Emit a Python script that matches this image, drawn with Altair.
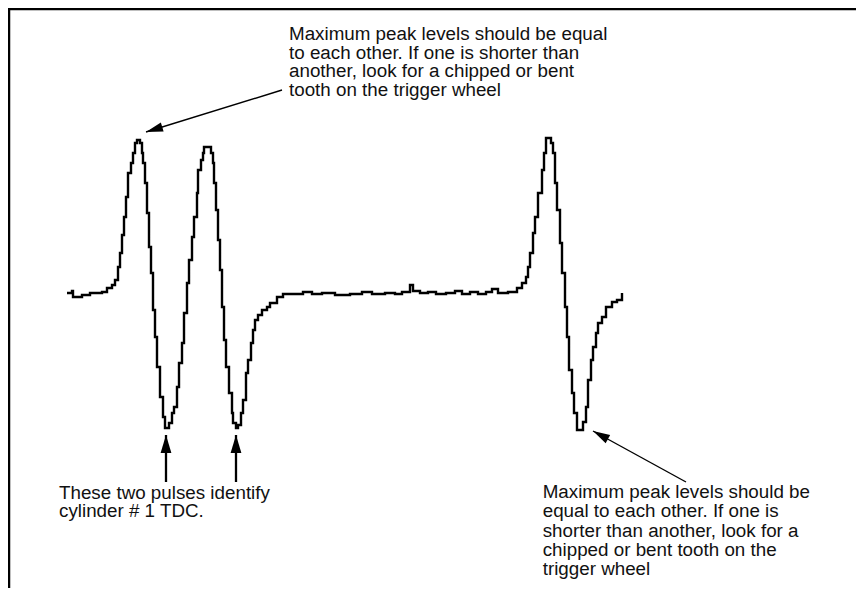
import altair as alt
import pandas as pd
import numpy as np

# Waveform samples: time (arbitrary units) and signal level
t = [1, 6, 7, 16, 24, 36, 41, 46, 49, 52, 54, 56, 58, 60, 62, 65, 67, 69, 71, 74,
     76, 77, 79, 81, 83, 85, 87, 89, 91, 94, 97, 99, 103, 106, 108, 111, 113, 116, 118, 121,
     123, 126, 128, 131, 132, 135, 137, 138, 145, 147, 148, 150, 152, 154, 156, 158, 160, 163, 166, 167,
     170, 172, 175, 177, 180, 182, 185, 187, 189, 192, 196, 201, 204, 211, 217, 237, 246, 256, 269, 284,
     296, 306, 319, 329, 336, 344, 347, 354, 362, 370, 380, 389, 396, 404, 412, 420, 426, 432, 442, 451,
     456, 460, 462, 464, 467, 469, 472, 476, 478, 480, 485, 487, 489, 491, 494, 496, 499, 501, 503, 506,
     508, 511, 517, 520, 522, 525, 527, 530, 532, 536, 540, 546, 551, 556]
lvl = [1, 3, -3, -1, 1, 2, 6, 9, 14, 27, 41, 59, 77, 97, 121, 131, 141, 151, 154, 151,
       141, 131, 111, 81, 47, 21, -16, -43, -73, -103, -123, -134, -129, -119, -113, -93, -69, -49, -19, 11,
       34, 57, 77, 101, 124, 134, 141, 147, 141, 131, 111, 84, 54, 24, -13, -46, -73, -99, -119, -129,
       -134, -131, -119, -106, -79, -66, -49, -36, -26, -21, -16, -13, -9, -3, 0, 2, 0, 1, -1, 0,
       2, 0, 1, 0, 2, 9, 3, 1, 2, 0, 1, 3, 0, 2, 0, 2, 5, 1, 2, 6,
       11, 17, 27, 41, 61, 77, 101, 124, 141, 156, 151, 141, 111, 84, 51, 21, -13, -43, -76, -99,
       -119, -136, -128, -113, -86, -66, -53, -39, -29, -23, -13, -8, -6, 1]

# Annotation texts
top_lines = ["Maximum peak levels should be equal",
             "to each other. If one is shorter than",
             "another, look for a chipped or bent",
             "tooth on the trigger wheel"]
left_lines = ["These two pulses identify",
              "cylinder # 1 TDC."]
right_lines = ["Maximum peak levels should be",
               "equal to each other. If one is",
               "shorter than another, look for a",
               "chipped or bent tooth on the",
               "trigger wheel"]

# Annotation anchors (same data units as the trace)
top_anchor = (223, 260, 18.5)      # x, first-line y, line step
left_anchor = (-7, -198.5, 18.5)
right_anchor = (476.7, -198, 19.25)

# Arrows: tail -> tip
arrow_t = [216, 100, 170, 620]
arrow_v = [204, -188, -188, -188]
arrow_t2 = [80, 100, 170, 527]
arrow_v2 = [162, -141, -141, -137]
arrow_kind = ["diag", "vert", "vert", "diag"]

W, H = 848, 580
XS = alt.Scale(domain=[-58, 790], nice=False, zero=False)
YS = alt.Scale(domain=[-294, 286], nice=False, zero=False)
FONT = "Liberation Sans"
FS = 18.8


def text_df(lines, anchor):
    x0, y0, step = anchor
    return pd.DataFrame({"t": [x0] * len(lines),
                         "v": [y0 - i * step for i in range(len(lines))],
                         "txt": lines})


wave = alt.Chart(pd.DataFrame({"t": t, "v": lvl})).mark_line(
    interpolate="step-after", color="black", strokeWidth=2.4
).encode(
    x=alt.X("t:Q", scale=XS, axis=None),
    y=alt.Y("v:Q", scale=YS, axis=None),
)

texts = alt.Chart(pd.concat([text_df(top_lines, top_anchor),
                             text_df(left_lines, left_anchor),
                             text_df(right_lines, right_anchor)])).mark_text(
    align="left", baseline="middle", font=FONT, fontSize=FS, color="#111111"
).encode(
    x=alt.X("t:Q", scale=XS, axis=None),
    y=alt.Y("v:Q", scale=YS, axis=None),
    text="txt:N",
)

adf = pd.DataFrame({"t": arrow_t, "v": arrow_v, "t2": arrow_t2, "v2": arrow_v2, "kind": arrow_kind})
dx = adf["t2"] - adf["t"]
dy = -(adf["v2"] - adf["v"])
adf["angle"] = np.mod(np.degrees(np.arctan2(dx, -dy)), 360)
adf["w"] = np.where(adf["kind"] == "diag", 1.4, 2.3)

shafts = alt.Chart(adf).mark_rule(color="black").encode(
    x=alt.X("t:Q", scale=XS, axis=None),
    y=alt.Y("v:Q", scale=YS, axis=None),
    x2="t2:Q",
    y2="v2:Q",
    strokeWidth=alt.StrokeWidth("w:Q", scale=None),
)

heads_diag = alt.Chart(adf[adf["kind"] == "diag"]).mark_point(
    shape="M0,0 L-0.55,2 L0.55,2 Z", size=289, filled=True, color="black",
    opacity=1, strokeWidth=0
).encode(
    x=alt.X("t2:Q", scale=XS, axis=None),
    y=alt.Y("v2:Q", scale=YS, axis=None),
    angle=alt.Angle("angle:Q", scale=None),
)

heads_vert = alt.Chart(adf[adf["kind"] == "vert"]).mark_point(
    shape="M0,0 L-0.6,2 L0.6,2 Z", size=324, filled=True, color="black",
    opacity=1, strokeWidth=0
).encode(
    x=alt.X("t2:Q", scale=XS, axis=None),
    y=alt.Y("v2:Q", scale=YS, axis=None),
    angle=alt.Angle("angle:Q", scale=None),
)

frame_df = pd.DataFrame({"a": [0]})
frame_top = alt.Chart(frame_df).mark_rule(color="black", strokeWidth=2.5).encode(
    x=alt.value(0), x2=alt.value(W), y=alt.value(1)
)
frame_left = alt.Chart(frame_df).mark_rule(color="black", strokeWidth=2.5).encode(
    x=alt.value(1), y=alt.value(0), y2=alt.value(H)
)

chart = alt.layer(frame_top, frame_left, wave, shafts, heads_diag, heads_vert, texts).properties(
    width=W, height=H, padding=0, autosize="none", background="white"
).configure_view(stroke=None)

chart.save("out.html", embed_options={"renderer": "svg", "actions": False})
